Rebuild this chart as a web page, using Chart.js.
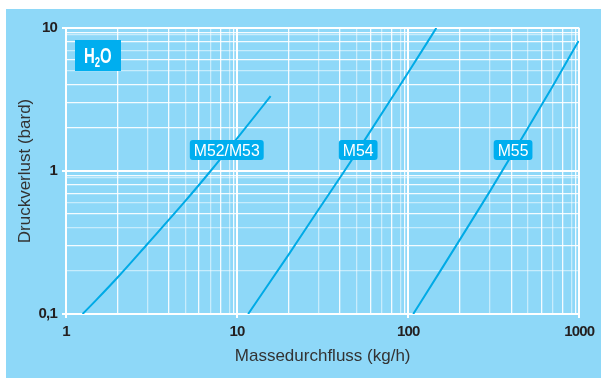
<!DOCTYPE html>
<html>
<head>
<meta charset="utf-8">
<script src="https://cdn.jsdelivr.net/npm/chart.js@4/dist/chart.umd.min.js"></script>
<style>
  html, body { margin: 0; padding: 0; background: #ffffff; }
  #wrap { position: relative; width: 601px; height: 378px; }
</style>
</head>
<body>
<div id="wrap"><canvas id="c" width="601" height="378"></canvas></div>
<script>
// Pressure drop vs. mass flow for water, three valve sizes
const m52Flow = [1.25, 1.5, 2, 3, 5, 7, 10, 15.7];
const m52Drop = [0.1, 0.125, 0.18, 0.31, 0.62, 1.0, 1.69, 3.34];

const m54Flow = [11.6, 20, 30, 42.4, 50, 100, 146];
const m54Drop = [0.1, 0.26, 0.54, 1.0, 1.35, 4.88, 10];

const m55Flow = [107, 150, 200, 300, 500, 700, 990];
const m55Drop = [0.1, 0.19, 0.33, 0.72, 1.99, 3.93, 8.1];

const seriesNames = ['M52/M53', 'M54', 'M55'];
// where each series name tag sits (flow, pressure drop)
const tagFlow = [8.7, 51, 410];
const tagDrop = [1.4, 1.4, 1.4];

const xTickValues = [1, 10, 100, 1000];
const xTickLabels = ['1', '10', '100', '1000'];
const yTickValues = [0.1, 1, 10];
const yTickLabels = ['0,1', '1', '10'];

const xTitle = 'Massedurchfluss (kg/h)';
const yTitle = 'Druckverlust (bard)';

const PANEL = '#8ED8F8';
const CURVE = '#00AAE6';
const TAG = '#00AEEF';
const SANS = "'Liberation Sans', Arial, sans-serif";

function toPoints(xs, ys) { return xs.map((x, i) => ({ x: x, y: ys[i] })); }

// full log grid: 1..9 per decade, plus the doubled line just under each decade
function logGrid(minV, maxV, twin) {
  const out = [];
  for (let d = minV; d < maxV; d *= 10) {
    for (let k = 1; k < 10; k++) out.push(+(d * k).toPrecision(6));
    out.push(+(d * 10 * twin).toPrecision(6));
  }
  out.push(maxV);
  return out.sort((a, b) => a - b);
}
const isDecade = v => Math.abs(Math.log10(v) - Math.round(Math.log10(v))) < 1e-6;
const lightY = [0.2, 0.4, 0.6, 0.9, 5, 7, 9];
const lightX = [3, 5, 7, 9, 30, 50, 70, 90, 300, 500, 700, 900];

function gridOpts(lightList) {
  return {
    color: ctx => {
      const v = ctx.tick ? ctx.tick.value : 0;
      if (isDecade(v)) return '#ffffff';
      if (lightList.some(l => Math.abs(l - v) / l < 1e-6)) return 'rgba(255,255,255,0.5)';
      return 'rgba(255,255,255,0.9)';
    },
    lineWidth: ctx => (ctx.tick && isDecade(ctx.tick.value)) ? 2 : 1.3,
    drawTicks: true,
    tickLength: 4,
    tickColor: ctx => (ctx.tick && isDecade(ctx.tick.value)) ? '#ffffff' : 'rgba(0,0,0,0)',
    tickWidth: 2
  };
}

// tighter tracking for the bold tick numbers
function condenseLabels(scale) {
  if (scale._condensed) return;
  scale._condensed = true;
  const orig = scale.drawLabels;
  scale.drawLabels = function (area) {
    const ctx = this.ctx;
    ctx.save();
    ctx.letterSpacing = '-0.8px';
    orig.call(this, area);
    ctx.restore();
  };
}

const backdrop = {
  id: 'backdrop',
  beforeDraw(chart) {
    const ctx = chart.ctx;
    ctx.save();
    ctx.fillStyle = '#ffffff';
    ctx.fillRect(0, 0, chart.width, chart.height);
    ctx.fillStyle = PANEL;
    ctx.fillRect(6, 9, chart.width - 6, chart.height - 9);
    ctx.restore();
  }
};

function roundRect(ctx, x, y, w, h, r) {
  ctx.beginPath();
  ctx.moveTo(x + r, y);
  ctx.lineTo(x + w - r, y);
  ctx.quadraticCurveTo(x + w, y, x + w, y + r);
  ctx.lineTo(x + w, y + h - r);
  ctx.quadraticCurveTo(x + w, y + h, x + w - r, y + h);
  ctx.lineTo(x + r, y + h);
  ctx.quadraticCurveTo(x, y + h, x, y + h - r);
  ctx.lineTo(x, y + r);
  ctx.quadraticCurveTo(x, y, x + r, y);
  ctx.closePath();
}

const tags = {
  id: 'tags',
  afterDatasetsDraw(chart) {
    const ctx = chart.ctx;
    const xs = chart.scales.x, ys = chart.scales.y;
    const squeeze = 0.93;
    ctx.save();
    ctx.font = '17px ' + SANS;
    ctx.textAlign = 'center';
    ctx.textBaseline = 'middle';
    seriesNames.forEach((name, i) => {
      const cx = xs.getPixelForValue(tagFlow[i]);
      const cy = ys.getPixelForValue(tagDrop[i]);
      const w = ctx.measureText(name).width * squeeze + 8;
      const h = 20;
      ctx.fillStyle = TAG;
      roundRect(ctx, cx - w / 2, cy - h / 2, w, h, 3);
      ctx.fill();
      ctx.save();
      ctx.translate(cx, cy + 1);
      ctx.scale(squeeze, 1);
      ctx.fillStyle = '#ffffff';
      ctx.fillText(name, 0, 0);
      ctx.restore();
    });

    // medium tag in the upper-left corner of the plot
    const a = chart.chartArea;
    const bx = a.left + 9, by = a.top + 12, bw = 46, bh = 31;
    ctx.fillStyle = TAG;
    ctx.fillRect(bx, by, bw, bh);
    ctx.fillStyle = '#ffffff';
    ctx.textAlign = 'left';
    ctx.textBaseline = 'alphabetic';
    ctx.translate(bx + 9, by + 23);
    ctx.scale(0.68, 1);
    ctx.font = 'bold 22px ' + SANS;
    let tx = 0;
    ctx.fillText('H', tx, 0);
    tx += ctx.measureText('H').width;
    ctx.font = 'bold 14px ' + SANS;
    ctx.fillText('2', tx, 4);
    tx += ctx.measureText('2').width;
    ctx.font = 'bold 22px ' + SANS;
    ctx.fillText('O', tx, 0);
    ctx.restore();
  }
};

const lineSet = (label, xs, ys) => ({
  label: label,
  data: toPoints(xs, ys),
  showLine: true,
  borderColor: CURVE,
  backgroundColor: CURVE,
  borderWidth: 2,
  pointRadius: 0,
  cubicInterpolationMode: 'monotone',
  fill: false
});

new Chart(document.getElementById('c'), {
  type: 'scatter',
  data: {
    datasets: [
      lineSet(seriesNames[0], m52Flow, m52Drop),
      lineSet(seriesNames[1], m54Flow, m54Drop),
      lineSet(seriesNames[2], m55Flow, m55Drop)
    ]
  },
  options: {
    responsive: false,
    animation: false,
    devicePixelRatio: 1,
    layout: { padding: { left: 0, right: 21, top: 28, bottom: 0 } },
    plugins: { legend: { display: false }, tooltip: { enabled: false } },
    scales: {
      x: {
        type: 'logarithmic',
        min: 1, max: 1000,
        afterFit: s => { s.height = 64; condenseLabels(s); },
        afterBuildTicks: s => { s.ticks = logGrid(1, 1000, 0.955).map(v => ({ value: v, major: isDecade(v) })); },
        border: { display: true, color: '#ffffff', width: 2 },
        grid: gridOpts(lightX),
        ticks: {
          autoSkip: false,
          maxRotation: 0,
          padding: 5,
          color: '#231F20',
          font: { family: SANS, size: 15, weight: 'bold' },
          callback: v => { const i = xTickValues.findIndex(t => Math.abs(t - v) / t < 1e-6); return i >= 0 ? xTickLabels[i] : ''; }
        },
        title: {
          display: true, text: xTitle, color: '#333333',
          font: { family: SANS, size: 17 },
          padding: { top: 0, bottom: 11 }
        }
      },
      y: {
        type: 'logarithmic',
        min: 0.1, max: 10,
        afterFit: s => { s.width = 66; condenseLabels(s); },
        afterBuildTicks: s => { s.ticks = logGrid(0.1, 10, 0.935).map(v => ({ value: v, major: isDecade(v) })); },
        border: { display: true, color: '#ffffff', width: 2 },
        grid: gridOpts(lightY),
        ticks: {
          autoSkip: false,
          padding: 5,
          color: '#231F20',
          font: { family: SANS, size: 15, weight: 'bold' },
          callback: v => { const i = yTickValues.findIndex(t => Math.abs(t - v) / t < 1e-6); return i >= 0 ? yTickLabels[i] : ''; }
        },
        title: {
          display: true, text: yTitle, color: '#333333',
          font: { family: SANS, size: 17 },
          padding: { top: 15, bottom: 0 }
        }
      }
    }
  },
  plugins: [backdrop, tags]
});
</script>
</body>
</html>
